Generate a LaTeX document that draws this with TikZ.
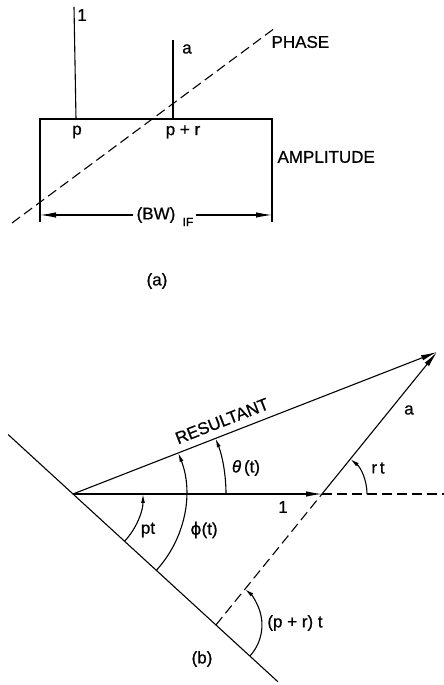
\documentclass[tikz,border=0pt]{standalone}
\usepackage{fontspec}
\setmainfont[FakeBold=0.7]{Liberation Sans}
\newfontfamily\dejavu[FakeBold=0.7]{DejaVu Sans}
\usetikzlibrary{arrows.meta,calc}
\begin{document}
\begin{tikzpicture}[x=1pt,y=1pt,
  line width=1.1pt,
  lbl/.style={font=\fontsize{17}{20}\selectfont, inner sep=0pt},
  bigtip/.style={-{Latex[length=16pt,width=5.5pt]}},
  smalltip/.style={-{Latex[length=9pt,width=4pt]}},
  dsh/.style={dash pattern=on 10pt off 5pt},
]
\useasboundingbox (0,0) rectangle (444,685);
% ---------------- part (a)
\coordinate (tl) at (40,566);
\coordinate (tr) at (272,566);
\coordinate (bl) at (40,463);
\coordinate (br) at (272,463);
\draw (bl) -- (tl) -- (tr) -- (br);
\coordinate (s1b) at (76,566);
\coordinate (s1t) at (74,678);
\draw (s1b) -- (s1t);
\coordinate (sab) at (173,566);
\coordinate (sat) at (173,645);
\draw (sab) -- (sat);
\node[lbl] (l1) at (82,670) {1};
\node[lbl] (la) at (187,636) {a};
\node[lbl] (lp) at (77,553) {p};
\node[lbl] (lpr) at (183,553) {p + r};
\coordinate (ph1) at (12,462);
\coordinate (ph2) at (275,657);
\draw[dsh] (ph1) -- (ph2);
\node[lbl,anchor=west] (phase) at (271,643) {PHASE};
\node[lbl,anchor=west] (amp) at (277,528) {AMPLITUDE};
\node[lbl] (bw) at (156,470) {(BW)};
\node[inner sep=0pt,font=\fontsize{12}{14}\selectfont] (if) at (188,463) {IF};
\coordinate (bwl) at (40,470);
\coordinate (bwr) at (272,470);
\draw[bigtip] ([xshift=-3pt]bw.west) -- (bwl);
\draw[bigtip] ([xshift=2pt]if.east |- bwr) -- (bwr);
\node[lbl] (capa) at (157,404) {(a)};
% ---------------- part (b)
\coordinate (O) at (73,191);
\coordinate (P) at (322,191);
\coordinate (T) at (437,333);
\coordinate (H) at (444,191);
\coordinate (D1) at ($(O)+(137.5:88)$);
\coordinate (D2) at ($(O)+(-42.5:278)$);
\draw (D1) -- (D2);
\draw[bigtip] (O) -- (P);
\draw[dsh] (P) -- (H);
\draw[bigtip] (P) -- (T);
\draw[bigtip] (O) -- (T);
\coordinate (Q) at (intersection of P--T and O--D2);
\draw[dsh] (Q) -- (P);
% angle arcs
\draw[smalltip] ($(O)+(-42.5:70)$) arc[start angle=-42.5, end angle=0, radius=70];
\draw[smalltip] ($(O)+(-42.5:113)$) arc[start angle=-42.5, end angle=21.31, radius=113];
\draw[smalltip] ($(O)+(0:153)$) arc[start angle=0, end angle=21.31, radius=153];
\draw[smalltip] ($(P)+(0:45)$) arc[start angle=0, end angle=51, radius=45];
\draw[smalltip] ($(Q)+(-42.5:46)$) arc[start angle=-42.5, end angle=51, radius=46];
% labels
\node[lbl, rotate=21.3] (res) at (222,264) {RESULTANT};
\node[lbl] (th) at (246,217) {{\itshape θ}\,(t)};
\node[lbl] (ra) at (409,275) {a};
\node[lbl] (rtl) at (378,217) {r\,t};
\node[lbl] (one) at (283,178) {1};
\node[lbl] (ptl) at (148,155) {pt};
\node[lbl] (phl) at (204,155) {{\dejavu ϕ}(t)};
\node[lbl] (prt) at (295,62) {(p + r) t};
\node[lbl] (capb) at (202,26) {(b)};
\end{tikzpicture}
\end{document}
